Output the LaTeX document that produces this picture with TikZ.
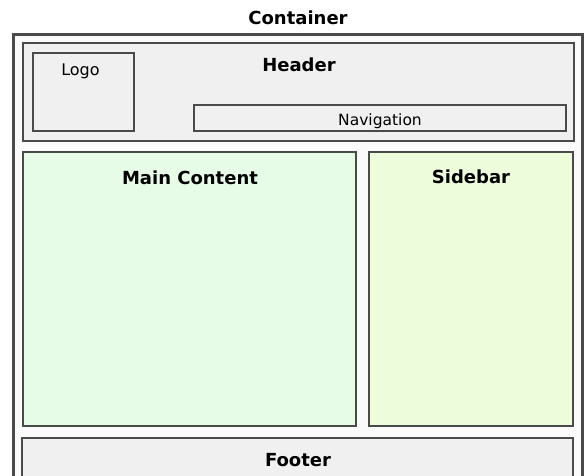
\documentclass[tikz,border=0pt]{standalone}
\usepackage{fontspec}
\setmainfont{DejaVu Sans}
\definecolor{bordergray}{HTML}{4A4A4A}
\definecolor{panelgray}{HTML}{F0F0F0}
\definecolor{maingreen}{HTML}{E7FCE6}
\definecolor{sidegreen}{HTML}{EDFCDB}
\begin{document}
\begin{tikzpicture}[x=1pt,y=-1pt,
  box/.style={draw=bordergray,line width=2.2pt,inner sep=0pt,outer sep=0pt,anchor=north west},
  title/.style={font=\fontsize{18}{20}\selectfont\bfseries,anchor=base,inner sep=0pt},
  plain/.style={font=\fontsize{16}{18}\selectfont,anchor=base,inner sep=0pt}]
\useasboundingbox (0,0) rectangle (587,475);
\clip (0,0) rectangle (587,475);
\fill[white] (0,0) rectangle (587,475);
\node (containerlabel) [title] at (298,24) {Container};
\node (container) [box,fill=white!98!black,minimum width=569,minimum height=460] at (13.5,34.5) {};
\node (header) [box,fill=panelgray,minimum width=551,minimum height=98] at (23,43) {};
\node (headerlabel) [title] at (299,71) {Header};
\node (logo) [box,fill=panelgray,minimum width=101,minimum height=78] at (33,53) {};
\node (logolabel) [plain] at (80.5,75) {Logo};
\node (nav) [box,fill=panelgray,minimum width=372,minimum height=26] at (194,105) {};
\node (navlabel) [plain,font=\fontsize{15.5}{18}\selectfont] at (380,125) {Navigation};
\node (main) [box,fill=maingreen,minimum width=333,minimum height=274] at (23,152) {};
\node (mainlabel) [title] at (190,184) {Main Content};
\node (side) [box,fill=sidegreen,minimum width=204,minimum height=274] at (369,152) {};
\node (sidelabel) [title] at (471,183) {Sidebar};
\node (footer) [box,fill=panelgray,minimum width=551,minimum height=60] at (22,438) {};
\node (footerlabel) [title] at (298,466) {Footer};
\end{tikzpicture}
\end{document}
